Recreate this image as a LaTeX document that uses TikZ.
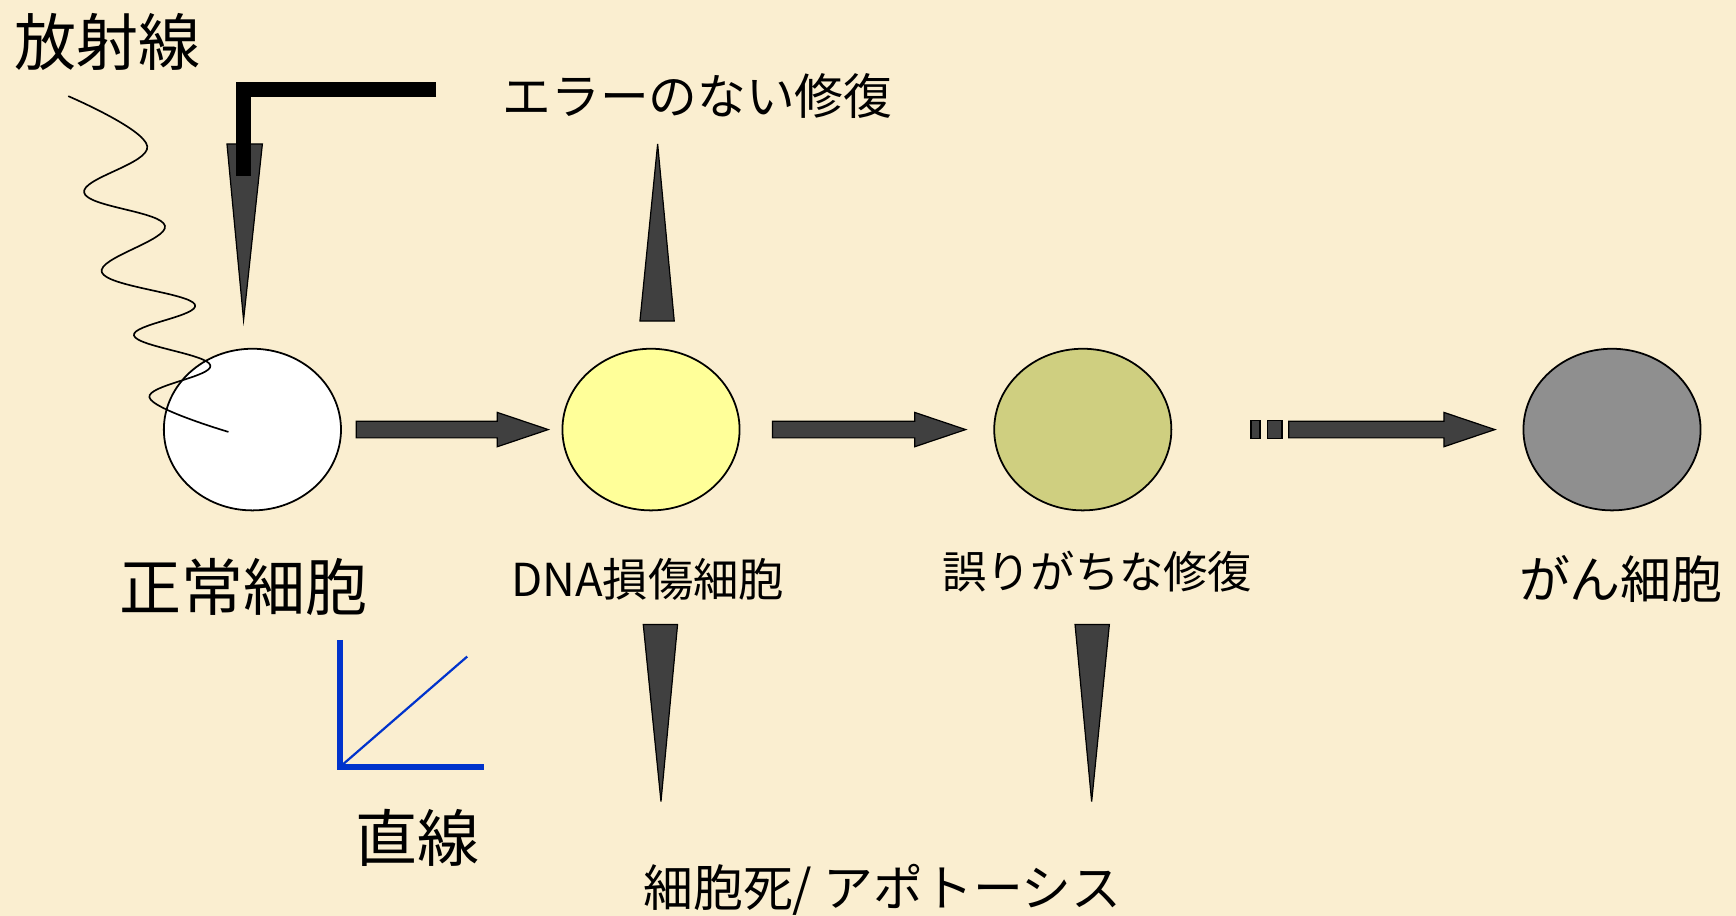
\documentclass[tikz,border=0pt]{standalone}
\usepackage{fontspec}
\setmainfont{Noto Sans CJK JP}
\usetikzlibrary{shapes.geometric,calc}
\definecolor{bgc}{RGB}{250,238,208}
\definecolor{darkfill}{RGB}{64,64,64}
\definecolor{yel}{RGB}{255,255,153}
\definecolor{olive2}{RGB}{207,207,128}
\definecolor{graycell}{RGB}{143,143,143}
\definecolor{blueax}{RGB}{0,51,204}
\newcommand{\blkarrow}[2]{%
  \draw[blkstyle] ($#1+(0,-7.5)$) -- ($#2+(-46,-7.5)$) -- ($#2+(-46,-15.5)$) -- #2
    -- ($#2+(-46,15.5)$) -- ($#2+(-46,7.5)$) -- ($#1+(0,7.5)$) -- cycle;}
\begin{document}
\begin{tikzpicture}[x=1pt,y=-1pt,
  cell/.style={ellipse,draw=black,line width=1.6pt,minimum width=160pt,minimum height=146pt,inner sep=0pt},
  blkstyle/.style={fill=darkfill,draw=black,line width=1.1pt,line join=miter},
  wedge/.style={fill=darkfill,draw=black,line width=1.1pt,line join=miter},
  lbl/.style={inner sep=0pt,text=black}]
\useasboundingbox (0,0) rectangle (1568,827);
\fill[bgc] (0,0) rectangle (1568,827);

% cells
\node[cell,fill=white]    (c1) at (228,388) {};
\node[cell,fill=yel]      (c2) at (588,388) {};
\node[cell,fill=olive2]   (c3) at (978,388) {};
\node[cell,fill=graycell] (c4) at (1456,388) {};

% block arrows
\coordinate (a1s) at ($(c1.east)+(13,0)$);
\coordinate (a1e) at ($(c2.west)+(-12,0)$);
\coordinate (a2s) at ($(c2.east)+(29,0)$);
\coordinate (a2e) at ($(c3.west)+(-25,0)$);
\coordinate (a3s) at (1164,388);
\coordinate (a3e) at ($(c4.west)+(-25,0)$);
\blkarrow{(a1s)}{(a1e)}
\blkarrow{(a2s)}{(a2e)}
\blkarrow{(a3s)}{(a3e)}
\draw[blkstyle] (1130,380) rectangle (1138,396);
\draw[blkstyle] (1145,380) rectangle (1158,396);

% wedges
\draw[wedge] (205,130) -- (237,130) -- (220,289) -- cycle;
\draw[wedge] (578,290) -- (609,290) -- (594,130) -- cycle;
\draw[wedge] (581,564) -- (612,564) -- (597,724) -- cycle;
\draw[wedge] (971,564) -- (1002,564) -- (986,724) -- cycle;

% thick L line
\draw[line width=13.5pt,line join=miter] (394,81) -- (220,81) -- (220,159);

% radiation wave
\draw[line width=1.5pt,line cap=round] plot[smooth,tension=0.65] coordinates
  {(62,87) (133,132) (76,174) (149,204) (92,246) (176,275) (121,303) (190,330) (135,359) (206,390)};

% linear graph icon
\draw[blueax,line width=5.5pt,line join=miter] (307,578) -- (307,693) -- (437,693);
\draw[blueax,line width=2pt] (309,691) -- (422,593);

% labels
\node[lbl] (t1) at (97,38) {\fontsize{56}{60}\selectfont 放射線};
\node[lbl] (t2) at (630,87) {\fontsize{44}{50}\selectfont エラーのない修復};
\node[lbl] (t3) at (220,530) {\fontsize{56}{60}\selectfont 正常細胞};
\node[lbl] (t4) at (585,523) {\fontsize{41}{46}\selectfont DNA損傷細胞};
\node[lbl] (t5) at (991,516) {\fontsize{40}{46}\selectfont 誤りがちな修復};
\node[lbl] (t6) at (1464,523) {\fontsize{46}{52}\selectfont がん細胞};
\node[lbl] (t7) at (377,757) {\fontsize{56}{60}\selectfont 直線};
\node[lbl,anchor=west] (t8) at (581,804) {\fontsize{45}{50}\selectfont 細胞死/ アポトーシス};
\end{tikzpicture}
\end{document}
